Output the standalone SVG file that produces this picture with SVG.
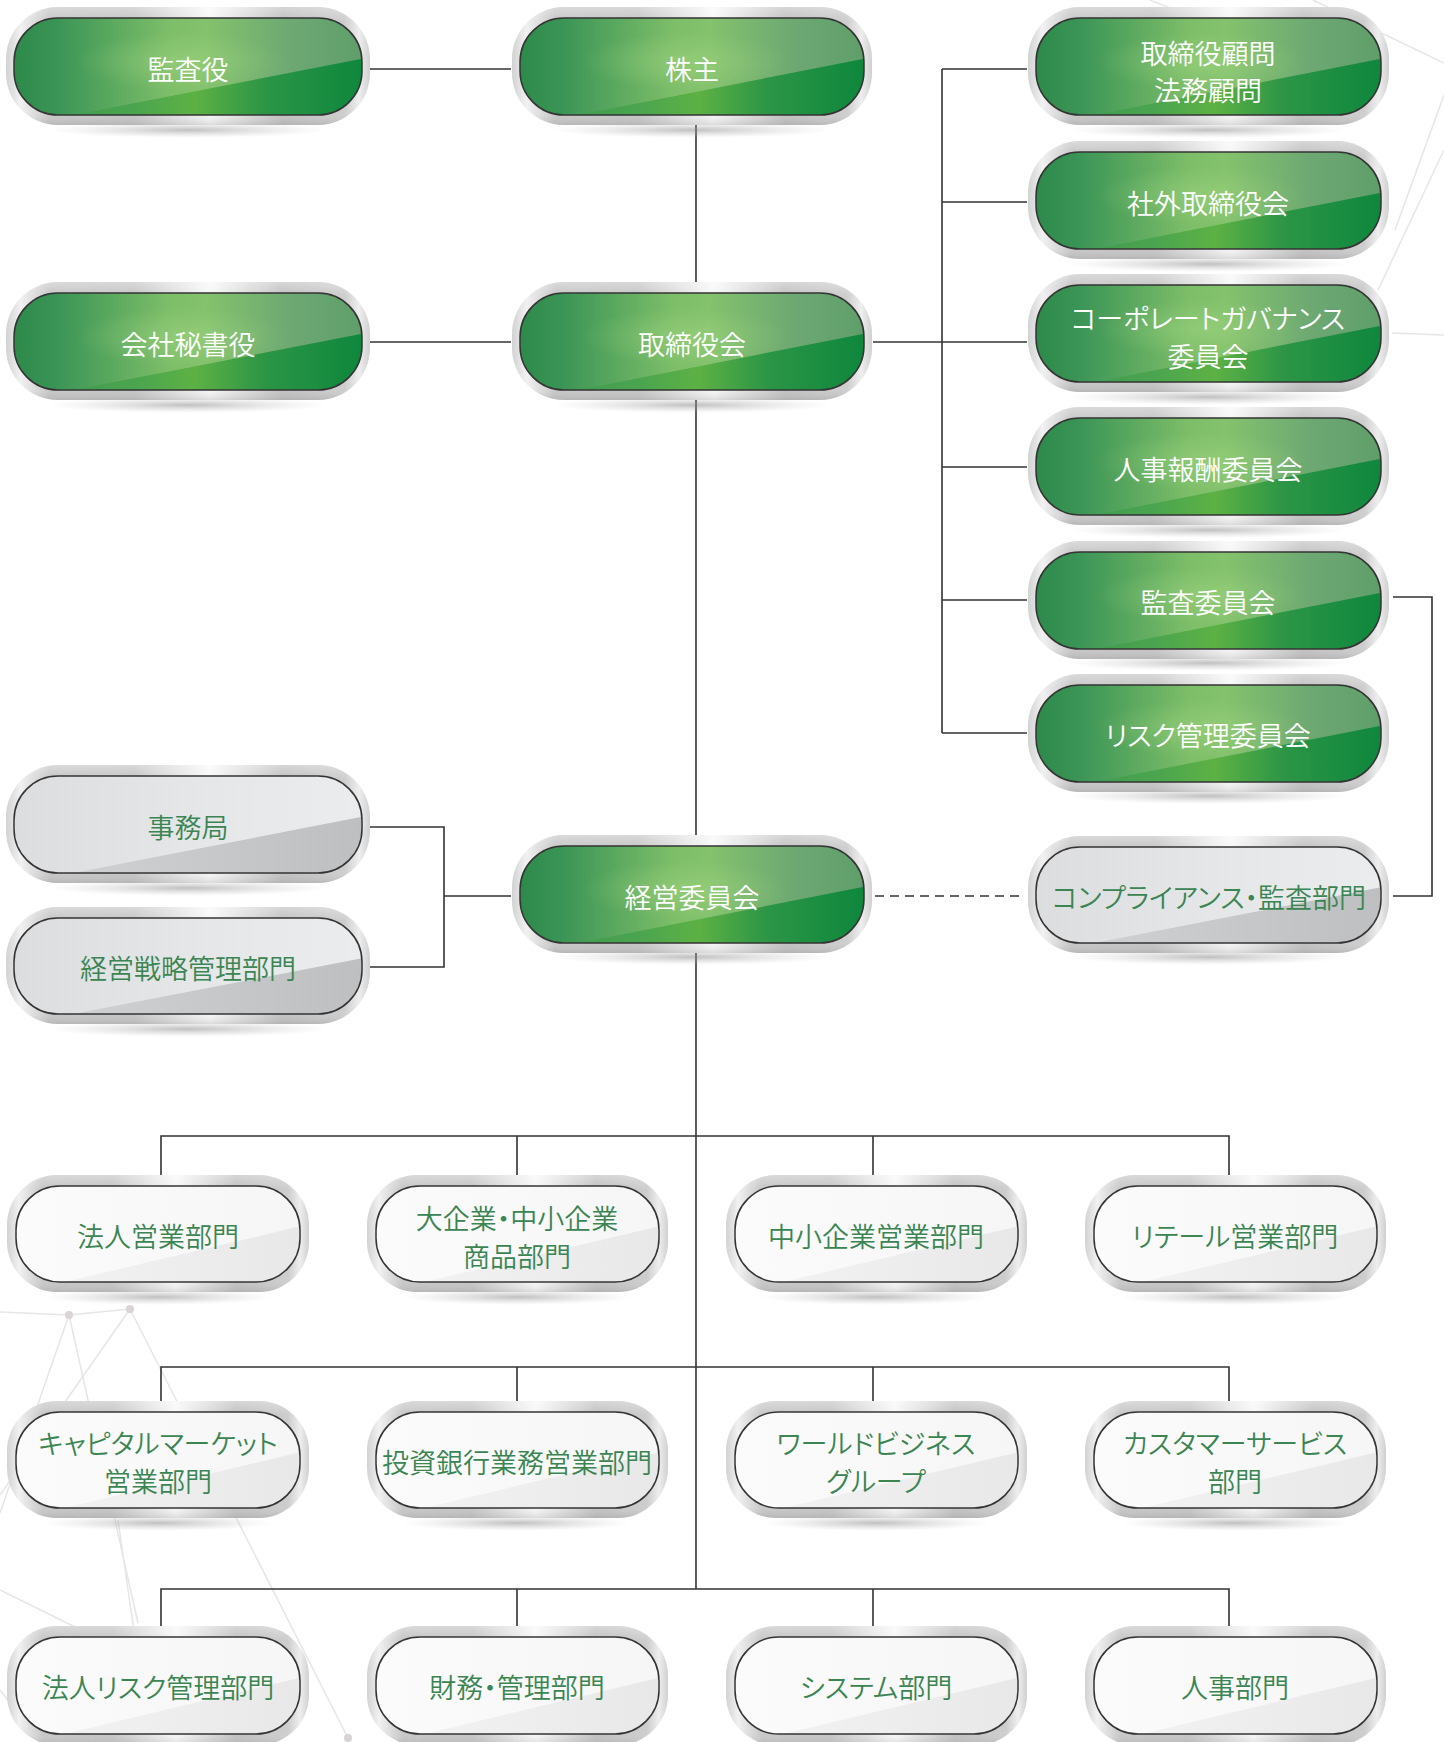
<svg xmlns="http://www.w3.org/2000/svg" width="1444" height="1742" viewBox="0 0 1444 1742">
<style>
.bg{stroke:#e6e6e6;stroke-width:1.5;fill:none}
.dot{fill:#d9d3d6}
.c{stroke:#333;stroke-width:1.6;fill:none}
.d{stroke-dasharray:9 6}
.sh{fill:url(#shadow)}
.fr{fill:url(#silver)}
.frt{fill:url(#silverV)}
.gb{fill:url(#gBase)}
.gw{fill:url(#gWedge);clip-path:url(#wedge)}
.gh{fill:url(#gHi)}
.yb{fill:url(#yBase)}
.yw{fill:url(#yWedge);clip-path:url(#wedge)}
.wb{fill:url(#wBase)}
.ww{fill:url(#wWedge);clip-path:url(#wedge)}
.ol{fill:none;stroke:#343434;stroke-width:1.5}
text{font-family:"Noto Sans CJK JP","Noto Sans CJK SC",sans-serif;font-size:27px;font-weight:350;text-anchor:middle;dominant-baseline:central;font-feature-settings:"palt"}
.tw{fill:#ffffff}
.tg{fill:#3b8553}
</style>
<defs>
<clipPath id="wedge" clipPathUnits="objectBoundingBox"><polygon points="0.17,1 1,0.42 1,1"/></clipPath>
<radialGradient id="shadow" cx="0.5" cy="0.5" r="0.5"><stop offset="0" stop-color="#8c8c8c" stop-opacity="0.55"/><stop offset="1" stop-color="#bbbbbb" stop-opacity="0"/></radialGradient>
<linearGradient id="silver" x1="0" y1="0" x2="1" y2="0">
<stop offset="0" stop-color="#d2d2d2"/><stop offset="0.04" stop-color="#f1f1f1"/><stop offset="0.12" stop-color="#c6c6c6"/><stop offset="0.35" stop-color="#c4c4c4"/><stop offset="0.56" stop-color="#f8f8f8"/><stop offset="0.76" stop-color="#c0c0c0"/><stop offset="0.93" stop-color="#cdcdcd"/><stop offset="0.97" stop-color="#eeeeee"/><stop offset="1" stop-color="#d0d0d0"/>
</linearGradient>
<linearGradient id="silverV" x1="0" y1="0" x2="0" y2="1">
<stop offset="0" stop-color="#ffffff" stop-opacity="0.35"/><stop offset="0.12" stop-color="#ffffff" stop-opacity="0"/><stop offset="0.88" stop-color="#ffffff" stop-opacity="0"/><stop offset="1" stop-color="#888888" stop-opacity="0.25"/>
</linearGradient>
<linearGradient id="gBase" x1="0" y1="0" x2="1" y2="0">
<stop offset="0" stop-color="#2d8a4b"/><stop offset="0.12" stop-color="#3a9456"/><stop offset="0.45" stop-color="#7ebe69"/><stop offset="0.55" stop-color="#84c26d"/><stop offset="0.8" stop-color="#6da873"/><stop offset="1" stop-color="#5f9e6a"/>
</linearGradient>
<radialGradient id="gHi" cx="0.48" cy="0.45" r="0.3"><stop offset="0" stop-color="#a6d985" stop-opacity="0.45"/><stop offset="1" stop-color="#a6d985" stop-opacity="0"/></radialGradient>
<linearGradient id="gWedge" x1="0" y1="0" x2="1" y2="0">
<stop offset="0" stop-color="#38924f"/><stop offset="0.35" stop-color="#4ba54f"/><stop offset="0.52" stop-color="#5db144"/><stop offset="0.72" stop-color="#2c9546"/><stop offset="1" stop-color="#0e873d"/>
</linearGradient>
<linearGradient id="yBase" x1="0" y1="0" x2="1" y2="0">
<stop offset="0" stop-color="#dcdddf"/><stop offset="0.5" stop-color="#e5e6e7"/><stop offset="1" stop-color="#ebeced"/>
</linearGradient>
<linearGradient id="yWedge" x1="0" y1="0" x2="1" y2="0">
<stop offset="0" stop-color="#d3d4d6"/><stop offset="1" stop-color="#bebfc1"/>
</linearGradient>
<linearGradient id="wBase" x1="0" y1="0" x2="1" y2="0">
<stop offset="0" stop-color="#fbfbfb"/><stop offset="1" stop-color="#f6f6f6"/>
</linearGradient>
<linearGradient id="wWedge" x1="0" y1="0" x2="1" y2="0">
<stop offset="0" stop-color="#f4f4f4"/><stop offset="1" stop-color="#e8e8e8"/>
</linearGradient>
</defs>

<rect x="0" y="0" width="1444" height="1742" fill="#ffffff"/>

<g id="background">
<path class="bg" d="M1313 0L1444 63M1444 95L1395 230M1444 150L1378 290M1392 333L1444 335M1150 0L1200 20"/>
<path class="bg" d="M0 1312L69 1315L130 1309M69 1315L0 1513M69 1315L138 1623M130 1309L0 1495M130 1309L348 1738M0 1590L75 1627M118 1520L150 1742M0 1690L40 1742"/>
<circle class="dot" cx="69" cy="1315" r="4"/>
<circle class="dot" cx="130" cy="1309" r="4"/>
<circle class="dot" cx="348" cy="1738" r="4"/>
</g>

<g id="connectors">
<path class="c" d="M370 69H511"/>
<path class="c" d="M696 125V283"/>
<path class="c" d="M370 342H511"/>
<path class="c" d="M873 342H1027"/>
<path class="c" d="M942 69V733M942 69H1027M942 202H1027M942 467H1027M942 600H1027M942 733H1027"/>
<path class="c" d="M696 400V836"/>
<path class="c" d="M1393 597H1432V896H1393"/>
<path class="c d" d="M875 896H1025"/>
<path class="c" d="M370 827H444V967H370M444 896H511"/>
<path class="c" d="M696 952V1589"/>
<path class="c" d="M161 1175V1136H1229V1175M517 1136V1175M873 1136V1175"/>
<path class="c" d="M161 1401V1367H1229V1401M517 1367V1401M873 1367V1401"/>
<path class="c" d="M161 1626V1589H1229V1626M517 1589V1626M873 1589V1626"/>
</g>

<!-- Green nodes -->
<g id="n-kansayaku">
<ellipse class="sh" cx="188" cy="130" rx="140" ry="8"/>
<rect class="fr" x="6" y="7" width="364" height="118" rx="52"/><rect class="frt" x="6" y="7" width="364" height="118" rx="52"/>
<rect class="gb" x="14" y="18" width="348" height="97" rx="44"/><rect class="gh" x="14" y="18" width="348" height="97" rx="44"/><rect class="gw" x="14" y="18" width="348" height="97" rx="44"/><rect class="ol" x="14" y="18" width="348" height="97" rx="44"/>
<text class="tw" x="188" y="68">監査役</text>
</g>
<g id="n-kabunushi">
<ellipse class="sh" cx="692" cy="130" rx="140" ry="8"/>
<rect class="fr" x="512" y="7" width="360" height="118" rx="52"/><rect class="frt" x="512" y="7" width="360" height="118" rx="52"/>
<rect class="gb" x="520" y="18" width="344" height="97" rx="44"/><rect class="gh" x="520" y="18" width="344" height="97" rx="44"/><rect class="gw" x="520" y="18" width="344" height="97" rx="44"/><rect class="ol" x="520" y="18" width="344" height="97" rx="44"/>
<text class="tw" x="692" y="68">株主</text>
</g>
<g id="n-komon">
<ellipse class="sh" cx="1208" cy="130" rx="140" ry="8"/>
<rect class="fr" x="1028" y="7" width="361" height="118" rx="52"/><rect class="frt" x="1028" y="7" width="361" height="118" rx="52"/>
<rect class="gb" x="1036" y="18" width="345" height="97" rx="44"/><rect class="gh" x="1036" y="18" width="345" height="97" rx="44"/><rect class="gw" x="1036" y="18" width="345" height="97" rx="44"/><rect class="ol" x="1036" y="18" width="345" height="97" rx="44"/>
<text class="tw" x="1208" y="52">取締役顧問</text>
<text class="tw" x="1208" y="89">法務顧問</text>
</g>
<g id="n-shagai">
<ellipse class="sh" cx="1208" cy="264" rx="140" ry="8"/>
<rect class="fr" x="1028" y="141" width="361" height="118" rx="52"/><rect class="frt" x="1028" y="141" width="361" height="118" rx="52"/>
<rect class="gb" x="1036" y="152" width="345" height="97" rx="44"/><rect class="gh" x="1036" y="152" width="345" height="97" rx="44"/><rect class="gw" x="1036" y="152" width="345" height="97" rx="44"/><rect class="ol" x="1036" y="152" width="345" height="97" rx="44"/>
<text class="tw" x="1208" y="202">社外取締役会</text>
</g>
<g id="n-hisho">
<ellipse class="sh" cx="188" cy="405" rx="140" ry="8"/>
<rect class="fr" x="6" y="282" width="364" height="118" rx="52"/><rect class="frt" x="6" y="282" width="364" height="118" rx="52"/>
<rect class="gb" x="14" y="293" width="348" height="97" rx="44"/><rect class="gh" x="14" y="293" width="348" height="97" rx="44"/><rect class="gw" x="14" y="293" width="348" height="97" rx="44"/><rect class="ol" x="14" y="293" width="348" height="97" rx="44"/>
<text class="tw" x="188" y="343">会社秘書役</text>
</g>
<g id="n-torishimariyakukai">
<ellipse class="sh" cx="692" cy="405" rx="140" ry="8"/>
<rect class="fr" x="512" y="282" width="360" height="118" rx="52"/><rect class="frt" x="512" y="282" width="360" height="118" rx="52"/>
<rect class="gb" x="520" y="293" width="344" height="97" rx="44"/><rect class="gh" x="520" y="293" width="344" height="97" rx="44"/><rect class="gw" x="520" y="293" width="344" height="97" rx="44"/><rect class="ol" x="520" y="293" width="344" height="97" rx="44"/>
<text class="tw" x="692" y="343">取締役会</text>
</g>
<g id="n-governance">
<ellipse class="sh" cx="1208" cy="397" rx="140" ry="8"/>
<rect class="fr" x="1028" y="274" width="361" height="118" rx="52"/><rect class="frt" x="1028" y="274" width="361" height="118" rx="52"/>
<rect class="gb" x="1036" y="285" width="345" height="97" rx="44"/><rect class="gh" x="1036" y="285" width="345" height="97" rx="44"/><rect class="gw" x="1036" y="285" width="345" height="97" rx="44"/><rect class="ol" x="1036" y="285" width="345" height="97" rx="44"/>
<text class="tw" x="1208" y="317">コーポレートガバナンス</text>
<text class="tw" x="1208" y="355">委員会</text>
</g>
<g id="n-jinji-hoshu">
<ellipse class="sh" cx="1208" cy="530" rx="140" ry="8"/>
<rect class="fr" x="1028" y="407" width="361" height="118" rx="52"/><rect class="frt" x="1028" y="407" width="361" height="118" rx="52"/>
<rect class="gb" x="1036" y="418" width="345" height="97" rx="44"/><rect class="gh" x="1036" y="418" width="345" height="97" rx="44"/><rect class="gw" x="1036" y="418" width="345" height="97" rx="44"/><rect class="ol" x="1036" y="418" width="345" height="97" rx="44"/>
<text class="tw" x="1208" y="468">人事報酬委員会</text>
</g>
<g id="n-kansa-iinkai">
<ellipse class="sh" cx="1208" cy="663" rx="140" ry="8"/>
<rect class="fr" x="1028" y="541" width="361" height="118" rx="52"/><rect class="frt" x="1028" y="541" width="361" height="118" rx="52"/>
<rect class="gb" x="1036" y="552" width="345" height="97" rx="44"/><rect class="gh" x="1036" y="552" width="345" height="97" rx="44"/><rect class="gw" x="1036" y="552" width="345" height="97" rx="44"/><rect class="ol" x="1036" y="552" width="345" height="97" rx="44"/>
<text class="tw" x="1208" y="601">監査委員会</text>
</g>
<g id="n-risk-iinkai">
<ellipse class="sh" cx="1208" cy="796" rx="140" ry="8"/>
<rect class="fr" x="1028" y="674" width="361" height="118" rx="52"/><rect class="frt" x="1028" y="674" width="361" height="118" rx="52"/>
<rect class="gb" x="1036" y="685" width="345" height="97" rx="44"/><rect class="gh" x="1036" y="685" width="345" height="97" rx="44"/><rect class="gw" x="1036" y="685" width="345" height="97" rx="44"/><rect class="ol" x="1036" y="685" width="345" height="97" rx="44"/>
<text class="tw" x="1208" y="734">リスク管理委員会</text>
</g>
<g id="n-keiei-iinkai">
<ellipse class="sh" cx="692" cy="957" rx="140" ry="8"/>
<rect class="fr" x="512" y="835" width="360" height="118" rx="52"/><rect class="frt" x="512" y="835" width="360" height="118" rx="52"/>
<rect class="gb" x="520" y="846" width="344" height="97" rx="44"/><rect class="gh" x="520" y="846" width="344" height="97" rx="44"/><rect class="gw" x="520" y="846" width="344" height="97" rx="44"/><rect class="ol" x="520" y="846" width="344" height="97" rx="44"/>
<text class="tw" x="692" y="896">経営委員会</text>
</g>

<!-- Grey nodes -->
<g id="n-compliance">
<ellipse class="sh" cx="1208" cy="957" rx="140" ry="8"/>
<rect class="fr" x="1028" y="836" width="361" height="117" rx="52"/><rect class="frt" x="1028" y="836" width="361" height="117" rx="52"/>
<rect class="yb" x="1036" y="847" width="345" height="96" rx="44"/><rect class="yw" x="1036" y="847" width="345" height="96" rx="44"/><rect class="ol" x="1036" y="847" width="345" height="96" rx="44"/>
<text class="tg" x="1209" y="896">コンプライアンス・監査部門</text>
</g>
<g id="n-jimukyoku">
<ellipse class="sh" cx="188" cy="888" rx="140" ry="8"/>
<rect class="fr" x="6" y="765" width="364" height="118" rx="52"/><rect class="frt" x="6" y="765" width="364" height="118" rx="52"/>
<rect class="yb" x="14" y="776" width="348" height="97" rx="44"/><rect class="yw" x="14" y="776" width="348" height="97" rx="44"/><rect class="ol" x="14" y="776" width="348" height="97" rx="44"/>
<text class="tg" x="188" y="826">事務局</text>
</g>
<g id="n-senryaku">
<ellipse class="sh" cx="188" cy="1029" rx="140" ry="8"/>
<rect class="fr" x="6" y="907" width="364" height="117" rx="52"/><rect class="frt" x="6" y="907" width="364" height="117" rx="52"/>
<rect class="yb" x="14" y="918" width="348" height="96" rx="44"/><rect class="yw" x="14" y="918" width="348" height="96" rx="44"/><rect class="ol" x="14" y="918" width="348" height="96" rx="44"/>
<text class="tg" x="188" y="967">経営戦略管理部門</text>
</g>

<!-- White nodes row 1 -->
<g id="n-hojin-eigyo">
<ellipse class="sh" cx="158" cy="1297" rx="115" ry="8"/>
<rect class="fr" x="7" y="1175" width="302" height="117" rx="50"/><rect class="frt" x="7" y="1175" width="302" height="117" rx="50"/>
<rect class="wb" x="16" y="1186" width="284" height="96" rx="44"/><rect class="ww" x="16" y="1186" width="284" height="96" rx="44"/><rect class="ol" x="16" y="1186" width="284" height="96" rx="44"/>
<text class="tg" x="158" y="1235">法人営業部門</text>
</g>
<g id="n-daikigyo">
<ellipse class="sh" cx="517" cy="1297" rx="115" ry="8"/>
<rect class="fr" x="367" y="1175" width="301" height="117" rx="50"/><rect class="frt" x="367" y="1175" width="301" height="117" rx="50"/>
<rect class="wb" x="376" y="1186" width="283" height="96" rx="44"/><rect class="ww" x="376" y="1186" width="283" height="96" rx="44"/><rect class="ol" x="376" y="1186" width="283" height="96" rx="44"/>
<text class="tg" x="517" y="1217">大企業・中小企業</text>
<text class="tg" x="517" y="1255">商品部門</text>
</g>
<g id="n-chusho">
<ellipse class="sh" cx="876" cy="1297" rx="115" ry="8"/>
<rect class="fr" x="726" y="1175" width="301" height="117" rx="50"/><rect class="frt" x="726" y="1175" width="301" height="117" rx="50"/>
<rect class="wb" x="735" y="1186" width="283" height="96" rx="44"/><rect class="ww" x="735" y="1186" width="283" height="96" rx="44"/><rect class="ol" x="735" y="1186" width="283" height="96" rx="44"/>
<text class="tg" x="876" y="1235">中小企業営業部門</text>
</g>
<g id="n-retail">
<ellipse class="sh" cx="1235" cy="1297" rx="115" ry="8"/>
<rect class="fr" x="1085" y="1175" width="301" height="117" rx="50"/><rect class="frt" x="1085" y="1175" width="301" height="117" rx="50"/>
<rect class="wb" x="1094" y="1186" width="283" height="96" rx="44"/><rect class="ww" x="1094" y="1186" width="283" height="96" rx="44"/><rect class="ol" x="1094" y="1186" width="283" height="96" rx="44"/>
<text class="tg" x="1235" y="1235">リテール営業部門</text>
</g>

<!-- White nodes row 2 -->
<g id="n-capital">
<ellipse class="sh" cx="158" cy="1523" rx="115" ry="8"/>
<rect class="fr" x="7" y="1401" width="302" height="117" rx="50"/><rect class="frt" x="7" y="1401" width="302" height="117" rx="50"/>
<rect class="wb" x="16" y="1412" width="284" height="96" rx="44"/><rect class="ww" x="16" y="1412" width="284" height="96" rx="44"/><rect class="ol" x="16" y="1412" width="284" height="96" rx="44"/>
<text class="tg" x="158" y="1442">キャピタルマーケット</text>
<text class="tg" x="158" y="1480">営業部門</text>
</g>
<g id="n-toushi">
<ellipse class="sh" cx="517" cy="1523" rx="115" ry="8"/>
<rect class="fr" x="367" y="1401" width="301" height="117" rx="50"/><rect class="frt" x="367" y="1401" width="301" height="117" rx="50"/>
<rect class="wb" x="376" y="1412" width="283" height="96" rx="44"/><rect class="ww" x="376" y="1412" width="283" height="96" rx="44"/><rect class="ol" x="376" y="1412" width="283" height="96" rx="44"/>
<text class="tg" x="517" y="1461">投資銀行業務営業部門</text>
</g>
<g id="n-world">
<ellipse class="sh" cx="876" cy="1523" rx="115" ry="8"/>
<rect class="fr" x="726" y="1401" width="301" height="117" rx="50"/><rect class="frt" x="726" y="1401" width="301" height="117" rx="50"/>
<rect class="wb" x="735" y="1412" width="283" height="96" rx="44"/><rect class="ww" x="735" y="1412" width="283" height="96" rx="44"/><rect class="ol" x="735" y="1412" width="283" height="96" rx="44"/>
<text class="tg" x="876" y="1442">ワールドビジネス</text>
<text class="tg" x="876" y="1480">グループ</text>
</g>
<g id="n-customer">
<ellipse class="sh" cx="1235" cy="1523" rx="115" ry="8"/>
<rect class="fr" x="1085" y="1401" width="301" height="117" rx="50"/><rect class="frt" x="1085" y="1401" width="301" height="117" rx="50"/>
<rect class="wb" x="1094" y="1412" width="283" height="96" rx="44"/><rect class="ww" x="1094" y="1412" width="283" height="96" rx="44"/><rect class="ol" x="1094" y="1412" width="283" height="96" rx="44"/>
<text class="tg" x="1235" y="1442">カスタマーサービス</text>
<text class="tg" x="1235" y="1480">部門</text>
</g>

<!-- White nodes row 3 -->
<g id="n-hojin-risk">
<rect class="fr" x="7" y="1626" width="302" height="119" rx="50"/><rect class="frt" x="7" y="1626" width="302" height="119" rx="50"/>
<rect class="wb" x="16" y="1637" width="284" height="97" rx="44"/><rect class="ww" x="16" y="1637" width="284" height="97" rx="44"/><rect class="ol" x="16" y="1637" width="284" height="97" rx="44"/>
<text class="tg" x="158" y="1686">法人リスク管理部門</text>
</g>
<g id="n-zaimu">
<rect class="fr" x="367" y="1626" width="301" height="119" rx="50"/><rect class="frt" x="367" y="1626" width="301" height="119" rx="50"/>
<rect class="wb" x="376" y="1637" width="283" height="97" rx="44"/><rect class="ww" x="376" y="1637" width="283" height="97" rx="44"/><rect class="ol" x="376" y="1637" width="283" height="97" rx="44"/>
<text class="tg" x="517" y="1686">財務・管理部門</text>
</g>
<g id="n-system">
<rect class="fr" x="726" y="1626" width="301" height="119" rx="50"/><rect class="frt" x="726" y="1626" width="301" height="119" rx="50"/>
<rect class="wb" x="735" y="1637" width="283" height="97" rx="44"/><rect class="ww" x="735" y="1637" width="283" height="97" rx="44"/><rect class="ol" x="735" y="1637" width="283" height="97" rx="44"/>
<text class="tg" x="876" y="1686">システム部門</text>
</g>
<g id="n-jinji">
<rect class="fr" x="1085" y="1626" width="301" height="119" rx="50"/><rect class="frt" x="1085" y="1626" width="301" height="119" rx="50"/>
<rect class="wb" x="1094" y="1637" width="283" height="97" rx="44"/><rect class="ww" x="1094" y="1637" width="283" height="97" rx="44"/><rect class="ol" x="1094" y="1637" width="283" height="97" rx="44"/>
<text class="tg" x="1235" y="1686">人事部門</text>
</g>
</svg>
